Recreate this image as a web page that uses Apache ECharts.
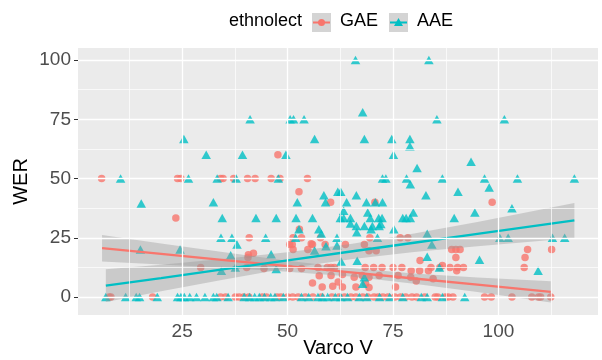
<!DOCTYPE html>
<html>
<head>
<meta charset="utf-8">
<script src="https://cdn.jsdelivr.net/npm/echarts@6/dist/echarts.min.js"></script>
<style>
  html, body { margin: 0; padding: 0; background: #fff; }
  #chart { width: 602px; height: 360px; }
</style>
</head>
<body>
<div id="chart"></div>
<script>
// GAE points [Varco V, WER]
const gaePoints = [
  [5.9,50],[23.9,50],[24.7,50],[34.1,50],[34.7,50],[37.2,50],[40.5,50],[42.3,50],[46.1,50],[48.2,50],[54.7,50],
  [47.7,60],[52.7,44.4],[60.2,40],[70.7,40],[98.5,40],[23.5,33.3],[52.8,28.6],
  [40.9,25],[51.3,25],[53.3,25],[57.8,25],[69.5,25],[76.7,25],[78.5,25],
  [50.5,22.2],[51.1,22.2],[55.9,22.2],[58.9,22.2],[63.7,22.2],[68.2,22.2],[55.6,22.5],
  [51.3,20],[54.8,20],[88.9,20],[89.9,20],[90.9,20],[106.9,20],[112.6,20],
  [69.3,19.5],[71.0,19.5],[41.9,18.5],[40.7,17.8],[40.6,16.7],[89.9,16.7],[106.3,16.7],[81.4,15.4],
  [29.4,12.5],[40.3,12.5],[44.4,12],[50.5,12],[53.3,12],[57.2,12.5],[59.4,12.5],[61.1,12.5],[60.3,12.5],
  [68.4,12.5],[70.4,12.5],[72.4,12.5],[75.0,12.5],[77.1,12.5],[79.3,11.1],[81.3,11.1],[83.4,11.1],
  [84.0,12.5],[86.1,12.5],[86.7,13.3],[88.5,12.5],[90.1,11.1],[90.3,12.5],[91.7,12.5],[106.1,12.5],
  [57.5,9],[60.3,9.1],[63.0,9.5],[65.8,8.3],[67.7,9.1],[69.3,8.3],[71.7,9.1],[76.2,9.1],[79.2,8.3],
  [80.5,6.7],[84.5,7.7],[55.9,5.9],[58.2,4.2],[60.7,4.5],[63.0,4.2],[66.2,4.2],[68.5,5.6],[69.3,4],
  [75.6,4.2],[62.0,6.3],
  [7.7,0],[8.1,0],[18.0,0],[34.1,0],[35.3,0],[37.6,0],[38.5,0],[39.6,0],[40.8,0],[44.0,0],[45.0,0],
  [47.5,0],[48.4,0],[50.0,0],[51.2,0],[52.5,0],[54.2,0],[56.0,0],[58.0,0],[60.5,0],[62.2,0],[63.5,0],
  [65.0,0],[66.2,0],[67.8,0],[69.0,0],[70.5,0],[71.5,0],[72.6,0],[73.8,0],[75.4,0],[76.8,0],[78.0,0],
  [79.5,0],[80.6,0],[82.5,0],[85.0,0],[85.6,0],[87.4,0],[88.1,0],[89.2,0],[96.7,0],[98.3,0],[103.2,0],
  [107.9,0],[109.5,0],[110.0,0],[112.4,0]
];

// AAE points [Varco V, WER]
const aaePoints = [
  [66.1,100],[83.5,100],[67.8,78],
  [41.1,75],[50.6,75],[51.4,75],[53.9,75],[85.4,75],[101.4,75],
  [25.4,66.7],[56.4,66.7],[68.2,66.7],[74.7,66.7],[79.0,66.7],[79.0,63.6],
  [30.7,60],[39.3,60],[49.6,60],[75.1,60],[93.5,57.1],[80.7,54.5],
  [10.4,50],[26.5,50],[33.3,50],[37.8,50],[47.8,50],[72.5,50],[73.3,50],[78.2,50],[86.7,50],[96.7,50],
  [104.5,50],[118.0,50],
  [79.1,47.6],[97.8,46.2],[61.9,44.4],[62.6,44.4],[90.4,44.4],[58.6,42.9],[66.3,42.9],[82.8,42.9],
  [15.3,39.5],[32.4,40],[52.3,40],[59.0,40],[64.0,40],[68.7,40],[72.5,40],[70.8,40],
  [103.2,37.5],[63.3,36.4],[79.8,35.7],[94.4,35.7],[69.0,35.7],
  [34.5,33.3],[42.5,33.3],[47.3,33.3],[52.0,33.3],[55.9,33.3],[62.5,33.3],[63.3,33.3],[64.9,33.3],
  [69.6,33.3],[71.6,33.3],[72.4,33.3],[77.3,33.3],[78.1,33.3],[79.1,33.3],[89.5,33.3],
  [52.7,28.6],[57.4,28.6],[64.9,31],[66.3,30],[68.2,30],[70.1,30],[71.7,30],[72.1,30.8],[75.2,28.6],
  [69.8,28.6],[58.0,26.7],[66.4,27.3],[83.1,26.7],
  [34.2,25],[36.8,25],[44.8,25],[51.9,25],[61.7,25],[71.3,25],[100.3,25],[102.3,25],[112.8,25],[115.7,25],
  [38.0,22.2],[84.2,22.2],[59.1,21.4],[61.7,21.7],[56.4,19.6],[15.1,20],[24.5,20],
  [36.5,17.6],[46.1,18],[83.1,17],[95.5,15.7],[62.7,15],[66.5,15.3],
  [34.3,11.1],[37.6,12.5],[47.3,11.8],[86.0,12.5],[109.4,11.1],[68.2,8.3],[67.8,5.6],
  [6.9,0],[11.6,0],[14.1,0],[14.9,0],[19.1,0],[23.9,0],[24.7,0],[25.5,0],[26.8,0],[28.4,0],[30.4,0],
  [32.4,0],[33.2,0],[35.9,0],[39.7,0],[41.0,0],[42.2,0],[43.3,0],[44.5,0],[46.0,0],[47.0,0],[49.0,0],
  [53.3,0],[55.0,0],[57.2,0],[58.3,0],[59.5,0],[61.3,0],[62.6,0],[64.2,0],[67.0,0],[68.8,0],[71.8,0],
  [74.2,0],[77.3,0],[81.7,0],[83.1,0],[86.7,0],[92.0,0]
];

// fitted lines and 95% bands
const gaeFitX   = [6, 20, 35, 50, 65, 80, 95, 112.4];
const gaeFit    = [20.6, 18.2, 15.6, 13.0, 10.4, 7.8, 5.2, 2.15];
const gaeLower  = [15.0, 13.7, 12.3, 10.7, 8.6, 5.6, 2.1, -2.3];
const gaeUpper  = [26.2, 22.6, 18.9, 15.3, 12.2, 9.9, 8.2, 6.6];

const aaeFitX   = [6.9, 20, 35, 50, 65, 80, 95, 118];
const aaeFit    = [4.8, 8.0, 11.8, 15.5, 19.2, 22.9, 26.6, 32.3];
const aaeLower  = [-2.1, 2.4, 7.4, 12.1, 15.9, 19.0, 21.4, 24.9];
const aaeUpper  = [11.7, 13.6, 16.1, 18.9, 22.4, 26.8, 31.7, 39.7];

const xTicks = [25, 50, 75, 100];
const yTicks = [0, 25, 50, 75, 100];
const xMinor = [12.5, 37.5, 62.5, 87.5, 112.5];
const yMinor = [12.5, 37.5, 62.5, 87.5];

const RED = '#F8766D';
const TEAL = '#00BFC4';

var chart = echarts.init(document.getElementById('chart'));

function bandSeries(xs, lo, hi) {
  return {
    type: 'custom',
    z: 3,
    silent: true,
    data: xs.map((x, i) => [x, lo[i], hi[i]]),
    encode: { x: 0, y: [1, 2] },
    renderItem: function (params, api) {
      if (params.dataIndex !== 0) return;
      const pts = [];
      for (let i = 0; i < xs.length; i++) pts.push(api.coord([xs[i], hi[i]]));
      for (let i = xs.length - 1; i >= 0; i--) pts.push(api.coord([xs[i], lo[i]]));
      return { type: 'polygon', shape: { points: pts }, style: { fill: 'rgba(153,153,153,0.4)' } };
    }
  };
}

const gridLines = []
  .concat(yTicks.map(v => ({ yAxis: v, lineStyle: { width: 1.3 } })))
  .concat(yMinor.map(v => ({ yAxis: v, lineStyle: { width: 0.7 } })))
  .concat(xTicks.map(v => ({ xAxis: v, lineStyle: { width: 1.3 } })))
  .concat(xMinor.map(v => ({ xAxis: v, lineStyle: { width: 0.7 } })));

var option = {
  animation: false,
  backgroundColor: '#fff',
  textStyle: { fontFamily: 'Liberation Sans' },
  grid: {
    left: 78, right: 4, top: 48, bottom: 45,
    outerBoundsMode: 'none', containLabel: false,
    show: true, backgroundColor: '#EBEBEB', borderWidth: 0
  },
  xAxis: {
    type: 'value', min: 0.3, max: 123.6,
    axisLine: { show: false },
    splitLine: { show: false },
    axisTick: { show: true, length: 4, customValues: xTicks, lineStyle: { color: '#333', width: 1 } },
    axisLabel: { customValues: xTicks, color: '#4D4D4D', fontSize: 19, margin: 7 },
    name: 'Varco V', nameLocation: 'middle', nameGap: 23, nameMoveOverlap: false,
    nameTextStyle: { fontSize: 20, color: '#000' }
  },
  yAxis: {
    type: 'value', min: -7.6, max: 105.1,
    axisLine: { show: false },
    splitLine: { show: false },
    axisTick: { show: true, length: 4, customValues: yTicks, lineStyle: { color: '#333', width: 1 } },
    axisLabel: { customValues: yTicks, color: '#4D4D4D', fontSize: 19, margin: 7 },
    name: 'WER', nameLocation: 'middle', nameGap: 47, nameMoveOverlap: false,
    nameTextStyle: { fontSize: 20, color: '#000' }
  },
  graphic: [
    { type: 'text', left: 229, top: 12, style: { text: 'ethnolect', fontSize: 18, fill: '#000', fontFamily: 'Liberation Sans' } },
    { type: 'rect', shape: { x: 312, y: 13, width: 19, height: 19 }, style: { fill: '#D4D4D4' } },
    { type: 'line', shape: { x1: 313, y1: 22.5, x2: 330, y2: 22.5 }, style: { stroke: RED, lineWidth: 2 } },
    { type: 'circle', shape: { cx: 321.5, cy: 22.5, r: 3.5 }, style: { fill: RED } },
    { type: 'text', left: 340, top: 12, style: { text: 'GAE', fontSize: 18, fill: '#000', fontFamily: 'Liberation Sans' } },
    { type: 'rect', shape: { x: 389, y: 13, width: 19, height: 19 }, style: { fill: '#D4D4D4' } },
    { type: 'line', shape: { x1: 390, y1: 22.5, x2: 407, y2: 22.5 }, style: { stroke: TEAL, lineWidth: 2 } },
    { type: 'polygon', shape: { points: [[398.5, 18], [403, 26], [394, 26]] }, style: { fill: TEAL } },
    { type: 'text', left: 417, top: 12, style: { text: 'AAE', fontSize: 18, fill: '#000', fontFamily: 'Liberation Sans' } }
  ],
  series: [
    {
      type: 'line', data: [], z: 1, silent: true,
      markLine: {
        silent: true, symbol: ['none', 'none'], label: { show: false },
        lineStyle: { color: '#FFFFFF', type: 'solid' },
        data: gridLines
      }
    },
    {
      name: 'GAE', type: 'scatter', z: 2, symbol: 'circle', symbolSize: 7.5,
      itemStyle: { color: RED }, data: gaePoints
    },
    {
      name: 'AAE', type: 'scatter', z: 2, symbol: 'triangle', symbolSize: [9.5, 8.5],
      itemStyle: { color: TEAL }, data: aaePoints
    },
    bandSeries(gaeFitX, gaeLower, gaeUpper),
    bandSeries(aaeFitX, aaeLower, aaeUpper),
    {
      type: 'line', z: 4, symbol: 'none', silent: true,
      lineStyle: { color: RED, width: 2.3 },
      data: gaeFitX.map((x, i) => [x, gaeFit[i]])
    },
    {
      type: 'line', z: 4, symbol: 'none', silent: true,
      lineStyle: { color: TEAL, width: 2.3 },
      data: aaeFitX.map((x, i) => [x, aaeFit[i]])
    }
  ]
};
chart.setOption(option);
</script>
</body>
</html>
